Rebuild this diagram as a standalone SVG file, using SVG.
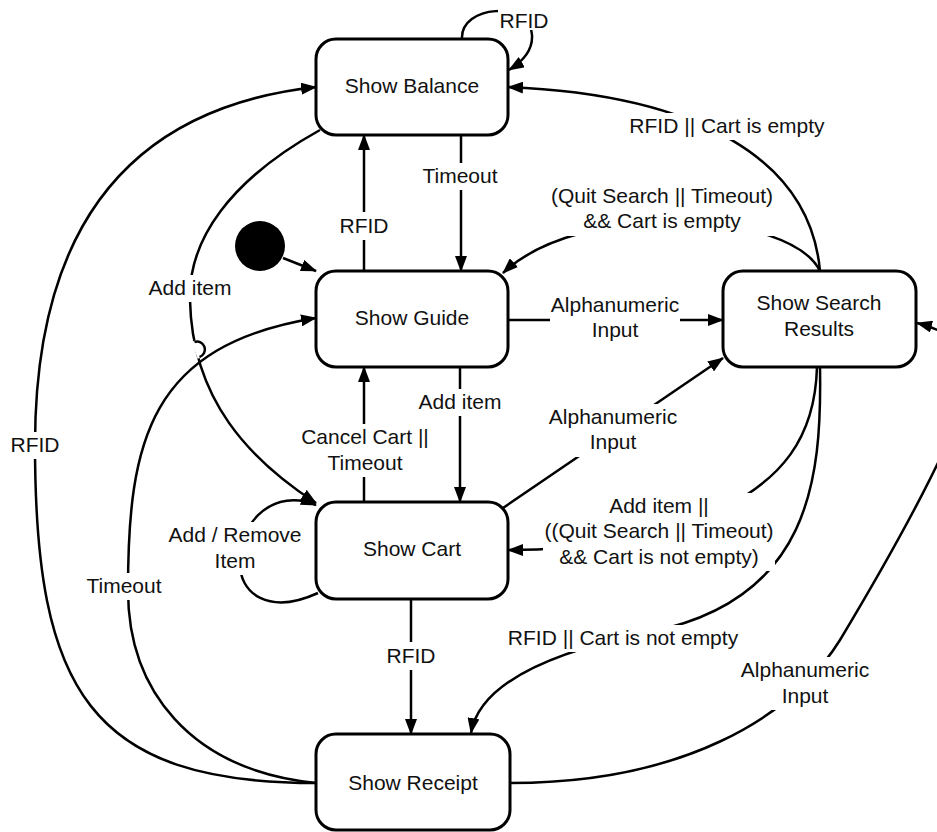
<svg xmlns="http://www.w3.org/2000/svg" width="937" height="832" viewBox="0 0 937 832">
<defs>
<marker id="ah" viewBox="0 0 16 12" refX="15" refY="6" markerWidth="16" markerHeight="12" markerUnits="userSpaceOnUse" orient="auto">
<path d="M0,0 L16,6 L0,12 z" fill="#000"/>
</marker>
<style>
.e{fill:none;stroke:#000;stroke-width:2.5;marker-end:url(#ah)}
.h{fill:none;stroke:#000;stroke-width:2.5}
.bg{fill:#fff;stroke:none}
.t{font-family:"Liberation Sans",Arial,sans-serif;font-size:21px;fill:#111;text-anchor:middle}
.n rect{fill:#fff;stroke:#000;stroke-width:3}
</style>
</defs>
<rect width="937" height="832" fill="#fff"/>
<g id="connectors">
<circle id="start" cx="260" cy="246" r="25" fill="#000"/>
<path class="e" d="M283 258 L316 271"/>
<path class="e" d="M462 39 C460 5 530 0 532 35 C533 50 522 62 509 70"/>
<path class="e" d="M461 135 L461 271"/>
<path class="e" d="M364 271 L364 135"/>
<path class="e" d="M320 130 C230 180 188 240 190 300 C192 400 250 460 316 503"/>
<path class="e" d="M316 783 C190 770 128 690 128 590 C128 440 150 345 316 318"/>
<path class="e" d="M316 783 C90 783 35 690 35 445 C35 250 110 110 316 87"/>
<path class="e" d="M508 320 L723 320"/>
<path class="e" d="M460 367 L460 502"/>
<path class="e" d="M364 502 L364 367"/>
<path class="e" d="M318 593 C270 615 238 595 240 560 C240 520 275 488 316 505"/>
<path class="e" d="M503 508 L723 358"/>
<path class="e" d="M817 367 C815 440 780 480 720 510 C660 540 580 550 508 550"/>
<path class="e" d="M820 367 C822 480 810 600 650 632 C560 650 480 680 471 733"/>
<path class="e" d="M820 271 C810 160 700 95 508 87"/>
<path class="e" d="M820 271 C790 210 580 200 503 273"/>
<path class="e" d="M411 599 L411 734"/>
<path class="e" d="M510 783 C680 783 790 720 840 640 C900 540 960 430 968 385 C975 345 945 330 917 323"/>
<path d="M194 341 L200 358" stroke="#fff" stroke-width="5" fill="none"/>
<path class="h" d="M194.5 342 A 7 7 0 0 1 199.5 357"/>
<rect class="bg" x="498" y="5" width="52" height="25"/>
<text class="t" x="524" y="28">RFID</text>
<rect class="bg" x="421" y="163" width="78" height="27"/>
<text class="t" x="460" y="183">Timeout</text>
<rect class="bg" x="339" y="212" width="50" height="28"/>
<text class="t" x="364" y="233">RFID</text>
<rect class="bg" x="148" y="275" width="84" height="27"/>
<text class="t" x="190" y="295">Add item</text>
<rect class="bg" x="550" y="292" width="130" height="53"/>
<text class="t" x="615" y="312">Alphanumeric</text>
<text class="t" x="615" y="337">Input</text>
<rect class="bg" x="629" y="113" width="196" height="27"/>
<text class="t" x="727" y="133">RFID || Cart is empty</text>
<rect class="bg" x="550" y="183" width="224" height="53"/>
<text class="t" x="662" y="203">(Quit Search || Timeout)</text>
<text class="t" x="662" y="228">&amp;&amp; Cart is empty</text>
<rect class="bg" x="418" y="389" width="84" height="27"/>
<text class="t" x="460" y="409">Add item</text>
<rect class="bg" x="300" y="424" width="130" height="53"/>
<text class="t" x="365" y="444">Cancel Cart ||</text>
<text class="t" x="365" y="470">Timeout</text>
<rect class="bg" x="548" y="404" width="130" height="53"/>
<text class="t" x="613" y="424">Alphanumeric</text>
<text class="t" x="613" y="449">Input</text>
<rect class="bg" x="543" y="493" width="232" height="78"/>
<text class="t" x="659" y="513">Add item ||</text>
<text class="t" x="659" y="538">((Quit Search || Timeout)</text>
<text class="t" x="659" y="564">&amp;&amp; Cart is not empty)</text>
<rect class="bg" x="168" y="522" width="134" height="53"/>
<text class="t" x="235" y="542">Add / Remove</text>
<text class="t" x="235" y="568">Item</text>
<rect class="bg" x="386" y="642" width="50" height="28"/>
<text class="t" x="411" y="663">RFID</text>
<rect class="bg" x="507" y="625" width="232" height="27"/>
<text class="t" x="623" y="645">RFID || Cart is not empty</text>
<rect class="bg" x="740" y="657" width="130" height="53"/>
<text class="t" x="805" y="677">Alphanumeric</text>
<text class="t" x="805" y="703">Input</text>
<rect class="bg" x="85" y="573" width="78" height="27"/>
<text class="t" x="124" y="593">Timeout</text>
<rect class="bg" x="10" y="432" width="50" height="27"/>
<text class="t" x="35" y="452">RFID</text>
</g>
<g id="show-balance" class="n"><rect x="316" y="39" width="192" height="96" rx="20"/><text class="t" x="412" y="93">Show Balance</text></g>
<g id="show-guide" class="n"><rect x="316" y="271" width="192" height="96" rx="20"/><text class="t" x="412" y="325">Show Guide</text></g>
<g id="show-search-results" class="n"><rect x="723" y="271" width="193" height="96" rx="20"/><text class="t" x="819" y="310">Show Search</text><text class="t" x="819" y="336">Results</text></g>
<g id="show-cart" class="n"><rect x="316" y="502" width="192" height="97" rx="20"/><text class="t" x="412" y="556">Show Cart</text></g>
<g id="show-receipt" class="n"><rect x="316" y="734" width="194" height="96" rx="20"/><text class="t" x="413" y="790">Show Receipt</text></g>
</svg>
